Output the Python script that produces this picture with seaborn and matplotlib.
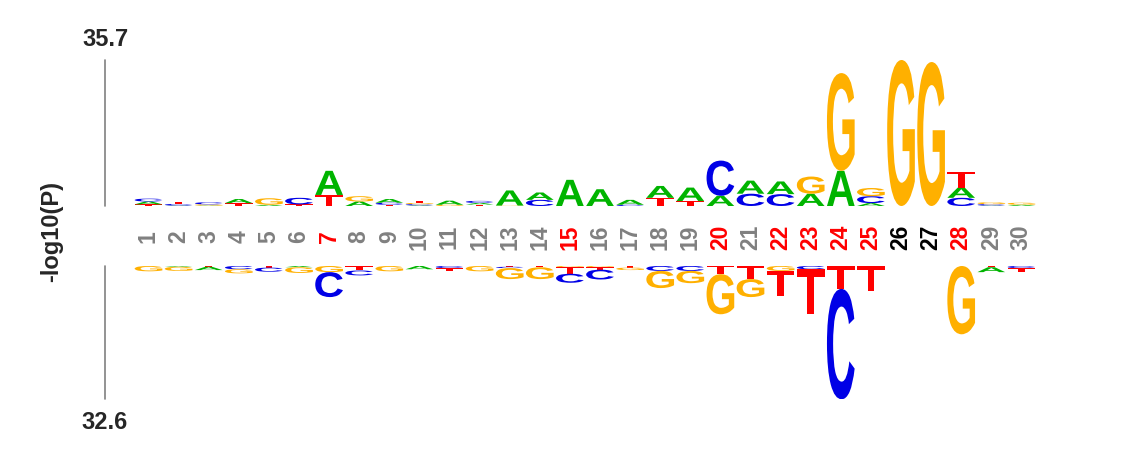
import matplotlib
matplotlib.use('Agg')
import matplotlib.pyplot as plt
import seaborn as sns
from matplotlib.textpath import TextPath
from matplotlib.patches import PathPatch
from matplotlib.font_manager import FontProperties
from matplotlib.transforms import Affine2D

# ---- data: -log10(P) per residue, enriched (top) and depleted (bottom) ----
positions = list(range(1, 31))

top_A = [0.7, 0.1, 0.1, 1.0, 0.3, 0.0, 5.9, 1.1, 0.9, 0.15, 1.0, 0.4, 3.7, 1.8, 6.4,
         4.1, 1.2, 2.9, 3.3, 2.5, 3.2, 3.1, 3.0, 8.6, 0.7, 0.0, 0.0, 2.5, 0.1, 0.3]
top_C = [0.7, 0.4, 0.5, 0.0, 0.0, 1.6, 0.0, 0.0, 0.5, 0.3, 0.0, 0.5, 0.0, 1.5, 0.0,
         0.0, 0.3, 0.0, 0.0, 8.6, 3.0, 2.9, 0.0, 0.0, 1.7, 0.0, 0.0, 2.0, 0.35, 0.0]
top_G = [0.0, 0.0, 0.3, 0.0, 1.6, 0.0, 0.0, 1.3, 0.0, 0.3, 0.3, 0.0, 0.1, 0.0, 0.0,
         0.0, 0.0, 0.0, 0.0, 0.0, 0.0, 0.0, 4.2, 23.9, 2.0, 35.7, 35.2, 0.0, 0.45, 0.5]
top_T = [0.4, 0.5, 0.0, 0.7, 0.0, 0.4, 2.7, 0.0, 0.3, 0.45, 0.0, 0.35, 0.0, 0.0, 0.0,
         0.0, 0.0, 2.0, 1.2, 0.0, 0.0, 0.0, 0.0, 0.0, 0.0, 0.0, 0.0, 3.9, 0.0, 0.0]

bot_A = [0.0, 0.2, 0.8, 0.0, 0.0, 0.3, 0.0, 0.0, 0.0, 0.8, 0.0, 0.0, 0.0, 0.0, 0.0,
         0.0, 0.0, 0.0, 0.0, 0.0, 0.0, 0.0, 0.0, 0.0, 0.0, 0.0, 0.0, 0.0, 1.2, 0.0]
bot_C = [0.0, 0.0, 0.0, 0.8, 1.0, 0.0, 6.1, 1.2, 0.0, 0.0, 0.5, 0.0, 0.3, 0.0, 2.2,
         2.4, 0.0, 1.2, 1.2, 0.0, 0.0, 0.0, 0.8, 27.0, 0.0, 0.0, 0.0, 0.0, 0.0, 0.5]
bot_G = [1.3, 1.0, 0.0, 1.0, 0.0, 1.4, 1.5, 0.0, 1.3, 0.0, 0.0, 1.3, 2.7, 2.9, 0.3,
         0.3, 0.6, 4.2, 3.0, 9.8, 4.4, 1.2, 0.0, 0.0, 0.0, 0.0, 0.0, 16.7, 0.0, 0.0]
bot_T = [0.0, 0.0, 0.2, 0.0, 0.4, 0.0, 0.0, 1.1, 0.0, 0.0, 0.7, 0.0, 0.2, 0.3, 1.6,
         0.6, 0.4, 0.0, 0.0, 2.0, 3.2, 6.1, 11.0, 5.6, 6.1, 0.0, 0.0, 0.0, 0.3, 0.9]

red_positions = [7, 15, 20, 22, 23, 24, 25, 28]
black_positions = [26, 27]
top_max = 35.7
bot_max = 32.6

colors = {'A': '#00B400', 'C': '#0000E6', 'G': '#FFB000', 'T': '#FF0000'}

sns.set_theme(style='white')
plt.rcParams['font.family'] = ['Liberation Sans', 'DejaVu Sans']
fp = FontProperties(family='Liberation Sans', weight='bold')

W, H = 1125, 460
px_per_unit = 4.09
gap_px = 30
gap = gap_px / px_per_unit
centre_y = 223
x_first, x_step = 148.5, 30.1

fig = plt.figure(figsize=(W / 100, H / 100), dpi=100)
left = x_first - x_step / 2
bottom = centre_y - gap_px - bot_max * px_per_unit
height = 2 * gap_px + (top_max + bot_max) * px_per_unit
ax = fig.add_axes([left / W, bottom / H, 30 * x_step / W, height / H])
ax.set_xlim(0.5, 30.5)
ax.set_ylim(-(gap + bot_max), gap + top_max)
ax.axis('off')


def draw_letter(ch, x, y0, h, width=0.92):
    if h <= 0:
        return
    tp = TextPath((0, 0), ch, size=1, prop=fp)
    bb = tp.get_extents()
    tr = (Affine2D().translate(-bb.x0, -bb.y0)
          .scale(width / bb.width, h / bb.height)
          .translate(x - width / 2, y0))
    ax.add_patch(PathPatch(tr.transform_path(tp), facecolor=colors[ch],
                           edgecolor='none', lw=0))


for i, p in enumerate(positions):
    top = sorted([(top_A[i], 'A'), (top_C[i], 'C'), (top_G[i], 'G'), (top_T[i], 'T')])
    y = gap
    for h, ch in top:
        draw_letter(ch, p, y, h)
        y += h
    bot = sorted([(bot_A[i], 'A'), (bot_C[i], 'C'), (bot_G[i], 'G'), (bot_T[i], 'T')])
    y = -gap
    for h, ch in bot:
        draw_letter(ch, p, y - h, h)
        y -= h
    c = '#FF0000' if p in red_positions else ('black' if p in black_positions else '#808080')
    ax.text(p, 0, str(p), rotation=90, ha='center', va='center', fontsize=16.5,
            fontweight='bold', color=c)

# broken axis line
xl = 0.5 - (left - 105) / x_step
ax.plot([xl, xl], [gap, gap + top_max], color='#808080', lw=1.2, clip_on=False)
ax.plot([xl, xl], [-gap, -(gap + bot_max)], color='#808080', lw=1.2, clip_on=False)
ax.annotate(f'{top_max}', xy=(xl, gap + top_max), xytext=(0, 7), textcoords='offset points',
            ha='center', va='bottom', fontsize=17, fontweight='bold', annotation_clip=False)
ax.annotate(f'{bot_max}', xy=(xl, -(gap + bot_max)), xytext=(0, -8), textcoords='offset points',
            ha='center', va='top', fontsize=17, fontweight='bold', annotation_clip=False)
fig.text(52 / W, 1 - 232 / H, '-log10(P)', rotation=90, ha='center', va='center',
         fontsize=17, fontweight='bold')

fig.savefig('out.png', dpi=100, facecolor='white')
